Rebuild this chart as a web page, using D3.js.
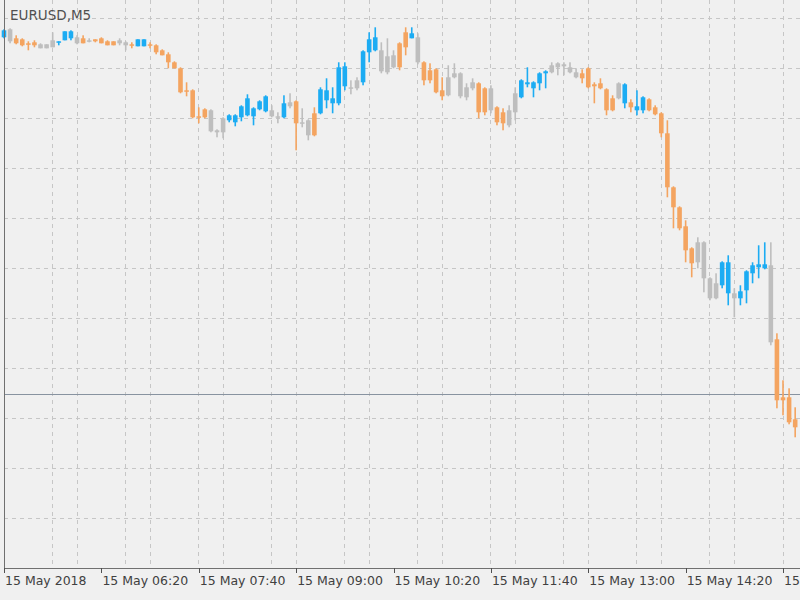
<!DOCTYPE html>
<html>
<head>
<meta charset="utf-8">
<script src="https://cdn.jsdelivr.net/npm/d3@7/dist/d3.min.js"></script>
<style>
  html, body { margin: 0; padding: 0; background: #F0F0F0; }
  svg { display: block; }
</style>
</head>
<body>
<script>
// ---- DATA (EURUSD, M5, 15 May 2018, starting 05:00) ----
const symbolTitle = "EURUSD,M5";
const startTime = "2018-05-15T05:00:00Z";
const barMinutes = 5;

const opens = [
1.19462,1.19478,1.19460,1.19458,1.19450,1.19452,1.19448,1.19440,1.19442,1.19452,
1.19456,1.19460,1.19462,1.19460,1.19454,1.19458,1.19460,1.19454,1.19454,1.19456,
1.19452,1.19448,1.19444,1.19444,1.19448,1.19446,1.19436,1.19428,1.19412,1.19400,
1.19356,1.19356,1.19304,1.19318,1.19316,1.19272,1.19272,1.19296,1.19292,1.19302,
1.19306,1.19304,1.19318,1.19314,1.19316,1.19302,1.19302,1.19332,1.19334,1.19292,
1.19266,1.19310,1.19310,1.19336,1.19330,1.19330,1.19364,1.19360,1.19360,1.19372,
1.19432,1.19436,1.19436,1.19392,1.19402,1.19450,1.19472,1.19460,1.19462,1.19412,
1.19396,1.19398,1.19356,1.19346,1.19390,1.19390,1.19342,1.19372,1.19370,1.19360,
1.19360,1.19322,1.19312,1.19286,1.19312,1.19342,1.19368,1.19360,1.19370,1.19390,
1.19392,1.19410,1.19408,1.19402,1.19392,1.19390,1.19400,1.19368,1.19370,1.19358,
1.19340,1.19370,1.19330,1.19332,1.19316,1.19316,1.19338,1.19322,1.19310,1.19270,
1.19162,1.19122,1.19084,1.19040,1.19052,1.19052,1.18980,1.18940,1.18966,1.18950,
1.18950,1.18940,1.18956,1.18990,1.19002,1.19000,1.19006,1.18858,1.18742,1.18742,
1.18698];
const highs = [
1.19478,1.19480,1.19466,1.19460,1.19454,1.19456,1.19450,1.19448,1.19472,1.19454,
1.19474,1.19476,1.19466,1.19466,1.19460,1.19458,1.19462,1.19456,1.19454,1.19460,
1.19454,1.19452,1.19458,1.19458,1.19452,1.19448,1.19438,1.19432,1.19414,1.19402,
1.19372,1.19358,1.19322,1.19320,1.19318,1.19278,1.19302,1.19308,1.19308,1.19326,
1.19348,1.19322,1.19336,1.19346,1.19326,1.19312,1.19346,1.19350,1.19336,1.19320,
1.19298,1.19322,1.19362,1.19380,1.19362,1.19412,1.19412,1.19376,1.19382,1.19436,
1.19472,1.19482,1.19452,1.19460,1.19436,1.19452,1.19482,1.19482,1.19470,1.19414,
1.19410,1.19400,1.19382,1.19406,1.19410,1.19392,1.19370,1.19380,1.19372,1.19362,
1.19366,1.19324,1.19320,1.19326,1.19362,1.19378,1.19402,1.19374,1.19392,1.19396,
1.19412,1.19412,1.19412,1.19412,1.19400,1.19398,1.19402,1.19372,1.19380,1.19360,
1.19346,1.19372,1.19370,1.19338,1.19356,1.19344,1.19340,1.19326,1.19312,1.19296,
1.19164,1.19124,1.19096,1.19042,1.19062,1.19054,1.18982,1.18990,1.19014,1.19026,
1.18960,1.18966,1.18996,1.19012,1.19046,1.19052,1.19052,1.18870,1.18776,1.18760,
1.18722];
const lows = [
1.19460,1.19450,1.19448,1.19444,1.19436,1.19442,1.19440,1.19440,1.19442,1.19446,
1.19456,1.19456,1.19448,1.19450,1.19452,1.19452,1.19450,1.19446,1.19446,1.19446,
1.19436,1.19440,1.19444,1.19444,1.19440,1.19428,1.19426,1.19400,1.19400,1.19350,
1.19344,1.19300,1.19290,1.19300,1.19272,1.19262,1.19260,1.19292,1.19284,1.19294,
1.19304,1.19286,1.19316,1.19312,1.19302,1.19290,1.19300,1.19320,1.19236,1.19282,
1.19256,1.19264,1.19308,1.19320,1.19310,1.19326,1.19356,1.19348,1.19356,1.19366,
1.19412,1.19434,1.19390,1.19388,1.19400,1.19396,1.19426,1.19460,1.19408,1.19366,
1.19370,1.19350,1.19336,1.19344,1.19380,1.19340,1.19336,1.19356,1.19300,1.19306,
1.19310,1.19286,1.19276,1.19282,1.19296,1.19340,1.19362,1.19342,1.19356,1.19360,
1.19390,1.19386,1.19386,1.19390,1.19380,1.19370,1.19360,1.19330,1.19358,1.19306,
1.19314,1.19338,1.19320,1.19312,1.19306,1.19310,1.19314,1.19306,1.19262,1.19142,
1.19080,1.19076,1.19012,1.18982,1.19000,1.18952,1.18936,1.18938,1.18960,1.18926,
1.18902,1.18926,1.18930,1.18970,1.18980,1.18998,1.18846,1.18720,1.18706,1.18688,
1.18662];
const closes = [
1.19476,1.19454,1.19450,1.19446,1.19448,1.19446,1.19440,1.19448,1.19456,1.19454,
1.19474,1.19474,1.19450,1.19450,1.19456,1.19454,1.19450,1.19446,1.19446,1.19450,
1.19446,1.19446,1.19458,1.19458,1.19446,1.19432,1.19426,1.19412,1.19400,1.19352,
1.19354,1.19302,1.19302,1.19302,1.19274,1.19276,1.19300,1.19306,1.19306,1.19324,
1.19340,1.19320,1.19334,1.19344,1.19304,1.19304,1.19330,1.19324,1.19290,1.19290,
1.19296,1.19266,1.19358,1.19356,1.19340,1.19402,1.19404,1.19362,1.19376,1.19434,
1.19458,1.19462,1.19394,1.19424,1.19426,1.19402,1.19442,1.19470,1.19412,1.19376,
1.19376,1.19352,1.19344,1.19382,1.19382,1.19344,1.19362,1.19360,1.19312,1.19312,
1.19316,1.19292,1.19290,1.19316,1.19350,1.19376,1.19372,1.19372,1.19390,1.19394,
1.19406,1.19402,1.19404,1.19392,1.19382,1.19380,1.19362,1.19364,1.19360,1.19316,
1.19316,1.19340,1.19368,1.19322,1.19324,1.19342,1.19316,1.19308,1.19270,1.19162,
1.19122,1.19080,1.19036,1.19010,1.19012,1.18980,1.18940,1.18970,1.19012,1.19012,
1.18940,1.18954,1.18994,1.19006,1.19008,1.19008,1.18852,1.18736,1.18736,1.18692,
1.18682];
// candle colour class from the indicator: B = blue, O = orange, G = gray
const candleClass = [
"B","G","O","O","O","O","G","G","G","B","B","B","G","O","G","O","O","O","O","G",
"G","O","B","B","O","O","O","O","O","O","O","O","O","O","G","G","G","B","B","B",
"B","B","B","B","G","G","B","G","O","G","G","O","B","B","B","B","B","G","G","B",
"B","B","G","G","G","O","O","B","G","O","O","O","O","G","G","G","G","G","O","O",
"G","O","O","G","G","B","B","B","B","B","G","G","G","G","G","O","O","O","O","O",
"O","G","B","O","B","B","O","O","O","O","O","O","O","O","G","G","G","G","B","B",
"G","B","B","B","B","B","G","O","O","O","O"];

const tickTimes = ["05:00","06:20","07:40","09:00","10:20","11:40","13:00","14:20","15:40"];
const tickLabels = ["15 May 2018","15 May 06:20","15 May 07:40","15 May 09:00","15 May 10:20",
                    "15 May 11:40","15 May 13:00","15 May 14:20","15 May 15:40"];
const priceLevel = 1.18748;
const priceMin = 1.1840, priceMax = 1.1950;

// ---- DRAW ----
const W = 800, H = 600;
const plotLeft = 4, plotTop = 18.3, plotBottom = 568.3;
const barStep = 6.086;
const colorMap = { B: "#1CACF3", O: "#F4A460", G: "#BEBEBE" };

const t0 = new Date(startTime);
const times = opens.map((_, i) => new Date(t0.getTime() + i * barMinutes * 60000));
const tLast = times[times.length - 1];

const x = d3.scaleTime()
  .domain([t0, tLast])
  .range([plotLeft, plotLeft + (times.length - 1) * barStep]);
const y = d3.scaleLinear().domain([priceMin, priceMax]).range([plotBottom, plotTop]);

const svg = d3.select("body").append("svg").attr("width", W).attr("height", H);
svg.append("rect").attr("width", W).attr("height", H).attr("fill", "#F0F0F0");

const dayStr = "2018-05-15T";
const tickDates = tickTimes.map(t => new Date(dayStr + t + ":00Z"));

// vertical grid every 40 minutes
const gridTimes = d3.utcMinute.every(40).range(new Date(t0.getTime() + 40 * 60000), new Date(dayStr + "16:00:00Z"));
svg.append("g").selectAll("line").data(gridTimes).join("line")
  .attr("x1", d => x(d)).attr("x2", d => x(d))
  .attr("y1", 0).attr("y2", plotBottom)
  .attr("stroke", "#C6C6C6").attr("stroke-dasharray", "4,4")
  .attr("shape-rendering", "crispEdges");

// horizontal grid
const yTicks = d3.range(0, 11).map(k => +(priceMax - k * 0.001).toFixed(4));
svg.append("g").selectAll("line").data(yTicks).join("line")
  .attr("x1", plotLeft).attr("x2", W)
  .attr("y1", d => y(d)).attr("y2", d => y(d))
  .attr("stroke", "#C6C6C6").attr("stroke-dasharray", "4,4")
  .attr("shape-rendering", "crispEdges");

// price level line
svg.append("line")
  .attr("x1", plotLeft).attr("x2", W)
  .attr("y1", y(priceLevel)).attr("y2", y(priceLevel))
  .attr("stroke", "#8893A0").attr("stroke-width", 1)
  .attr("shape-rendering", "crispEdges");

// candles
const bodyW = 4.6, wickW = 1.6;
const g = svg.append("g");
opens.forEach((o, i) => {
  const cx = x(times[i]);
  const col = colorMap[candleClass[i]];
  const top = y(Math.max(o, closes[i]));
  const bot = y(Math.min(o, closes[i]));
  g.append("rect")
    .attr("x", cx - wickW / 2).attr("width", wickW)
    .attr("y", y(highs[i])).attr("height", Math.max(1, y(lows[i]) - y(highs[i])))
    .attr("fill", col);
  g.append("rect")
    .attr("x", cx - bodyW / 2).attr("width", bodyW)
    .attr("y", top).attr("height", Math.max(1.5, bot - top))
    .attr("fill", col);
});

// frame: left border
svg.append("line")
  .attr("x1", plotLeft).attr("x2", plotLeft).attr("y1", 0).attr("y2", plotBottom)
  .attr("stroke", "#707070").attr("shape-rendering", "crispEdges");

// bottom axis
const axis = d3.axisBottom(x)
  .tickValues(tickDates)
  .tickFormat((d, i) => tickLabels[i])
  .tickSize(5)
  .tickSizeOuter(0);
const ax = svg.append("g").attr("transform", `translate(0,${plotBottom})`).call(axis);
ax.select(".domain").attr("stroke", "#707070").attr("d", `M${plotLeft},0.5H${W}`).attr("shape-rendering", "crispEdges");
ax.selectAll(".tick line").attr("stroke", "#505050").attr("shape-rendering", "crispEdges");
ax.selectAll(".tick text")
  .attr("text-anchor", "start").attr("x", 0.5).attr("y", 8).attr("dy", "0.71em")
  .attr("fill", "#404040")
  .style("font-family", "'DejaVu Sans', sans-serif").style("font-size", "12.5px");

// title
svg.append("text").attr("x", 10).attr("y", 20).text(symbolTitle)
  .attr("fill", "#505050")
  .style("font-family", "'DejaVu Sans', sans-serif").style("font-size", "13.5px");
</script>
</body>
</html>
